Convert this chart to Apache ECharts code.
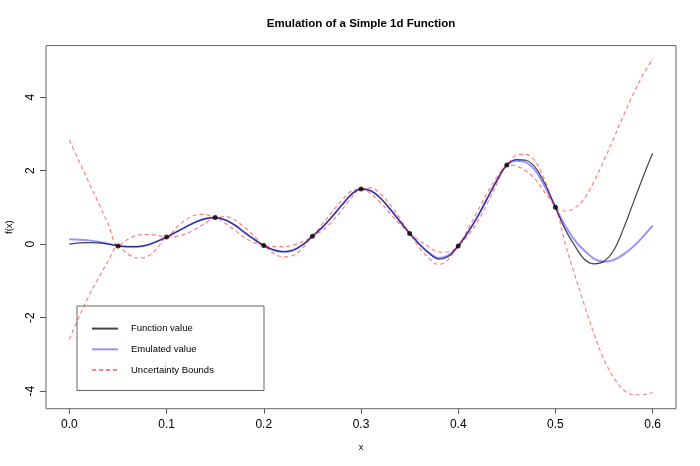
<!DOCTYPE html>
<html>
<head>
    <meta charset="utf-8">
    <title>Emulation of a Simple 1d Function</title>
    <script src="https://cdn.jsdelivr.net/npm/echarts@6/dist/echarts.min.js"></script>
</head>
<body style="margin:0;background:#fff;">
    <div id="main" style="width:700px;height:466px;"></div>
    <script type="text/javascript">
      // x grid the curves were read on
      var xs = [0.00, 0.01, 0.02, 0.03, 0.04, 0.05, 0.06, 0.07, 0.08, 0.09,
                0.10, 0.11, 0.12, 0.13, 0.14, 0.15, 0.16, 0.17, 0.18, 0.19,
                0.20, 0.21, 0.22, 0.23, 0.24, 0.25, 0.26, 0.27, 0.28, 0.29,
                0.30, 0.31, 0.32, 0.33, 0.34, 0.35, 0.36, 0.37, 0.38, 0.39,
                0.40, 0.41, 0.42, 0.43, 0.44, 0.45, 0.46, 0.47, 0.48, 0.49,
                0.50, 0.51, 0.52, 0.53, 0.54, 0.55, 0.56, 0.57, 0.58, 0.59, 0.60];
      // true function
      var fnValue = [0.00, 0.03, 0.04, 0.03, 0.00, -0.05, -0.07, -0.07, -0.03, 0.07,
                     0.19, 0.33, 0.47, 0.60, 0.69, 0.72, 0.66, 0.52, 0.32, 0.13,
                     -0.04, -0.16, -0.21, -0.17, -0.02, 0.21, 0.45, 0.74, 1.05, 1.35,
                     1.50, 1.45, 1.25, 0.95, 0.62, 0.29, 0.00, -0.25, -0.41, -0.33,
                     -0.05, 0.32, 0.75, 1.25, 1.74, 2.15, 2.30, 2.28, 2.06, 1.60,
                     1.00, 0.40, -0.05, -0.42, -0.54, -0.47, -0.17, 0.42, 1.12, 1.82, 2.47];
      // emulator mean
      var emulated = [0.13, 0.12, 0.10, 0.06, 0.01, -0.05, -0.07, -0.07, -0.03, 0.07,
                      0.19, 0.33, 0.47, 0.60, 0.69, 0.72, 0.66, 0.52, 0.32, 0.13,
                      -0.04, -0.16, -0.21, -0.17, -0.02, 0.21, 0.45, 0.74, 1.05, 1.35,
                      1.50, 1.45, 1.25, 0.95, 0.62, 0.29, 0.00, -0.24, -0.38, -0.31,
                      -0.05, 0.32, 0.75, 1.25, 1.74, 2.15, 2.27, 2.22, 1.98, 1.52,
                      1.00, 0.50, 0.10, -0.18, -0.40, -0.48, -0.43, -0.28, -0.07, 0.20, 0.50];
      // uncertainty bounds
      var upper = [2.83, 2.25, 1.68, 1.12, 0.54, -0.05, 0.13, 0.24, 0.26, 0.24,
                   0.19, 0.45, 0.66, 0.79, 0.81, 0.72, 0.75, 0.66, 0.46, 0.22,
                   -0.04, -0.07, -0.07, -0.03, 0.07, 0.21, 0.54, 0.87, 1.18, 1.44,
                   1.50, 1.53, 1.37, 1.07, 0.70, 0.29, 0.10, -0.08, -0.22, -0.21,
                   -0.05, 0.41, 0.90, 1.40, 1.83, 2.15, 2.42, 2.44, 2.22, 1.67,
                   1.00, 0.90, 0.98, 1.25, 1.72, 2.28, 2.88, 3.50, 4.08, 4.60, 5.04];
      var lower = [-2.59, -1.98, -1.42, -0.92, -0.46, -0.05, -0.27, -0.38, -0.34, -0.13,
                   0.19, 0.21, 0.28, 0.41, 0.57, 0.72, 0.57, 0.38, 0.18, 0.04,
                   -0.04, -0.25, -0.35, -0.31, -0.11, 0.21, 0.36, 0.61, 0.92, 1.26,
                   1.50, 1.37, 1.13, 0.83, 0.54, 0.29, -0.10, -0.39, -0.56, -0.41,
                   -0.05, 0.23, 0.61, 1.11, 1.65, 2.15, 2.12, 1.98, 1.74, 1.37,
                   1.00, 0.02, -0.85, -1.68, -2.47, -3.15, -3.64, -3.97, -4.10, -4.10, -4.04];
      // design points
      var designX = [0.05, 0.10, 0.15, 0.20, 0.25, 0.30, 0.35, 0.40, 0.45, 0.50];
      var designY = [-0.05, 0.19, 0.72, -0.04, 0.21, 1.50, 0.29, -0.05, 2.15, 1.00];
      // ticks
      var xTicks = [0, 0.1, 0.2, 0.3, 0.4, 0.5, 0.6];
      var yTicks = [-4, -2, 0, 2, 4];

      function pairs(x, y) {
        return x.map(function (v, i) { return [v, y[i]]; });
      }

      var font = 'Liberation Sans, Arial, Helvetica, sans-serif';
      var redLine = { color: 'rgba(255,0,0,0.5)', width: 1.2, type: [4, 3] };

      var echart = echarts.init(document.getElementById('main'));
      var option = {
        animation: false,
        backgroundColor: '#fff',
        textStyle: { fontFamily: font, color: '#000' },
        title: {
          text: 'Emulation of a Simple 1d Function',
          left: 361, top: 18, padding: 0, textAlign: 'center',
          textStyle: { fontSize: 11.5, fontWeight: 'bold', color: '#000', fontFamily: font }
        },
        grid: {
          left: 46, right: 24, top: 45.6, bottom: 57.3,
          containLabel: false, outerBoundsMode: 'none',
          show: true, borderColor: '#666', borderWidth: 1, backgroundColor: 'transparent'
        },
        xAxis: {
          type: 'value', min: -0.024, max: 0.624,
          name: 'x', nameLocation: 'middle', nameGap: 34,
          nameTextStyle: { fontSize: 9.5, color: '#000' },
          axisLine: { show: false, onZero: false },
          splitLine: { show: false },
          axisTick: { show: true, length: 5, customValues: xTicks, lineStyle: { color: '#555' } },
          axisLabel: {
            customValues: xTicks, fontSize: 12, color: '#000', margin: 10,
            formatter: function (v) { return v.toFixed(1); }
          }
        },
        yAxis: {
          type: 'value', min: -4.48, max: 5.40,
          name: 'f(x)', nameLocation: 'middle', nameGap: 32,
          nameTextStyle: { fontSize: 9.5, color: '#000' },
          axisLine: { show: false, onZero: false },
          splitLine: { show: false },
          axisTick: { show: true, length: 6, customValues: yTicks, lineStyle: { color: '#555' } },
          axisLabel: { customValues: yTicks, fontSize: 12, color: '#000', margin: 9, rotate: 90 }
        },
        legend: {
          orient: 'vertical', left: 91, top: 323, padding: 0,
          itemWidth: 26, itemHeight: 14, itemGap: 9.5,
          selectedMode: false,
          itemStyle: { opacity: 0 },
          data: ['Function value', 'Emulated value', 'Uncertainty Bounds'],
          textStyle: { fontSize: 9.5, color: '#000', padding: [0, 0, 0, 8] }
        },
        graphic: [{
          type: 'rect', z: 100,
          shape: { x: 77, y: 306, width: 187, height: 84.5 },
          style: { fill: 'none', stroke: '#666', lineWidth: 1 }
        }],
        series: [
          { name: 'Function value', type: 'line', data: pairs(xs, fnValue), smooth: 0.35,
            symbol: 'none', lineStyle: { color: '#444', width: 1.2 }, itemStyle: { color: '#444' } },
          { name: 'Emulated value', type: 'line', data: pairs(xs, emulated), smooth: 0.35,
            symbol: 'none', lineStyle: { color: 'rgba(0,0,255,0.42)', width: 2 }, itemStyle: { color: 'rgba(0,0,255,0.42)' } },
          { name: 'Uncertainty Bounds', type: 'line', data: pairs(xs, upper), smooth: 0.35,
            symbol: 'none', lineStyle: redLine, itemStyle: { color: 'rgba(255,0,0,0.5)' } },
          { name: 'Uncertainty Bounds', type: 'line', data: pairs(xs, lower), smooth: 0.35,
            symbol: 'none', lineStyle: redLine, itemStyle: { color: 'rgba(255,0,0,0.5)' } },
          { name: 'design', type: 'scatter', data: pairs(designX, designY),
            symbolSize: 5, itemStyle: { color: '#000' }, z: 5 }
        ]
      };
      echart.setOption(option);
    </script>
</body>
</html>
